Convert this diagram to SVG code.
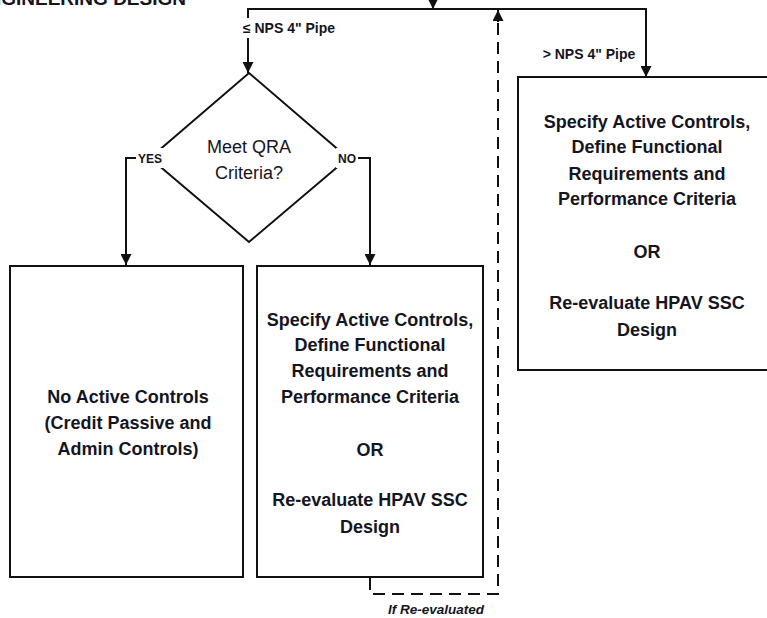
<svg xmlns="http://www.w3.org/2000/svg" width="767" height="618" viewBox="0 0 767 618">
  <defs>
    <marker id="arrow" viewBox="0 0 10 10" refX="10" refY="5" markerWidth="11" markerHeight="11" markerUnits="userSpaceOnUse" orient="auto">
      <path d="M0,0 L10,5 L0,10 Z" fill="#111"/>
    </marker>
    <style>
      .line { fill: none; stroke: #111; stroke-width: 2; }
      .dash { fill: none; stroke: #111; stroke-width: 2; stroke-dasharray: 12 7; }
      .box { fill: #fff; stroke: #111; stroke-width: 2; }
      .txt { font-family: "Liberation Sans", Arial, sans-serif; fill: #15151f; text-anchor: middle; }
      .body { font-size: 18px; font-weight: bold; }
      .cond { font-size: 18px; }
      .lbl { font-size: 14px; font-weight: bold; }
      .yn { font-size: 12px; font-weight: bold; }
      .note { font-size: 13.5px; font-weight: bold; font-style: italic; }
      .head { font-family: "Liberation Sans", Arial, sans-serif; font-size: 19px; font-weight: bold; fill: #15151f; text-anchor: end; }
    </style>
  </defs>

  <rect width="767" height="618" fill="#fff"/>

  <!-- section heading, running off the top edge -->
  <text class="head" x="186" y="5">ENGINEERING DESIGN</text>

  <g id="connectors">
    <!-- incoming flow -->
    <path class="line" d="M433,0 V9" marker-end="url(#arrow)"/>
    <!-- split bar -->
    <path class="line" d="M248,40 V9 H646 V77" marker-end="url(#arrow)"/>
    <path class="line" d="M248,38 V73" marker-end="url(#arrow)"/>
    <!-- decision branches -->
    <path class="line" d="M150,158 H126 V265" marker-end="url(#arrow)"/>
    <path class="line" d="M348,158 H370 V265" marker-end="url(#arrow)"/>
    <!-- re-evaluation loop -->
    <path class="dash" d="M370,578 V594 H498 V12"/>
    <path class="line" d="M498,22 V10" marker-end="url(#arrow)"/>

    <!-- branch labels -->
    <rect x="236" y="18" width="106" height="20" fill="#fff"/>
    <text class="txt lbl" x="289" y="33">≤ NPS 4" Pipe</text>
    <text class="txt lbl" x="589" y="59">&gt; NPS 4" Pipe</text>
    <text class="txt note" x="436" y="614">If Re-evaluated</text>
  </g>

  <g id="decision">
    <polygon class="box" points="249,73 348,158 249,242 150,158"/>
    <text class="txt cond" x="249" y="153">Meet QRA</text>
    <text class="txt cond" x="249" y="179">Criteria?</text>
    <rect x="136" y="148" width="29" height="20" fill="#fff"/>
    <text class="txt yn" x="150" y="163">YES</text>
    <rect x="336" y="148" width="22" height="20" fill="#fff"/>
    <text class="txt yn" x="347" y="163">NO</text>
  </g>

  <g id="no-active-controls">
    <rect class="box" x="10" y="266" width="233" height="311"/>
    <text class="txt body" x="128" y="403">No Active Controls</text>
    <text class="txt body" x="128" y="429">(Credit Passive and</text>
    <text class="txt body" x="128" y="455">Admin Controls)</text>
  </g>

  <g id="active-controls-small">
    <rect class="box" x="257" y="266" width="226" height="311"/>
    <text class="txt body" x="370" y="326">Specify Active Controls,</text>
    <text class="txt body" x="370" y="351">Define Functional</text>
    <text class="txt body" x="370" y="377">Requirements and</text>
    <text class="txt body" x="370" y="403">Performance Criteria</text>
    <text class="txt body" x="370" y="456">OR</text>
    <text class="txt body" x="370" y="506">Re-evaluate HPAV SSC</text>
    <text class="txt body" x="370" y="533">Design</text>
  </g>

  <g id="active-controls-large">
    <rect class="box" x="518" y="77" width="262" height="293"/>
    <text class="txt body" x="647" y="128">Specify Active Controls,</text>
    <text class="txt body" x="647" y="153">Define Functional</text>
    <text class="txt body" x="647" y="180">Requirements and</text>
    <text class="txt body" x="647" y="205">Performance Criteria</text>
    <text class="txt body" x="647" y="258">OR</text>
    <text class="txt body" x="647" y="309">Re-evaluate HPAV SSC</text>
    <text class="txt body" x="647" y="336">Design</text>
  </g>
</svg>
